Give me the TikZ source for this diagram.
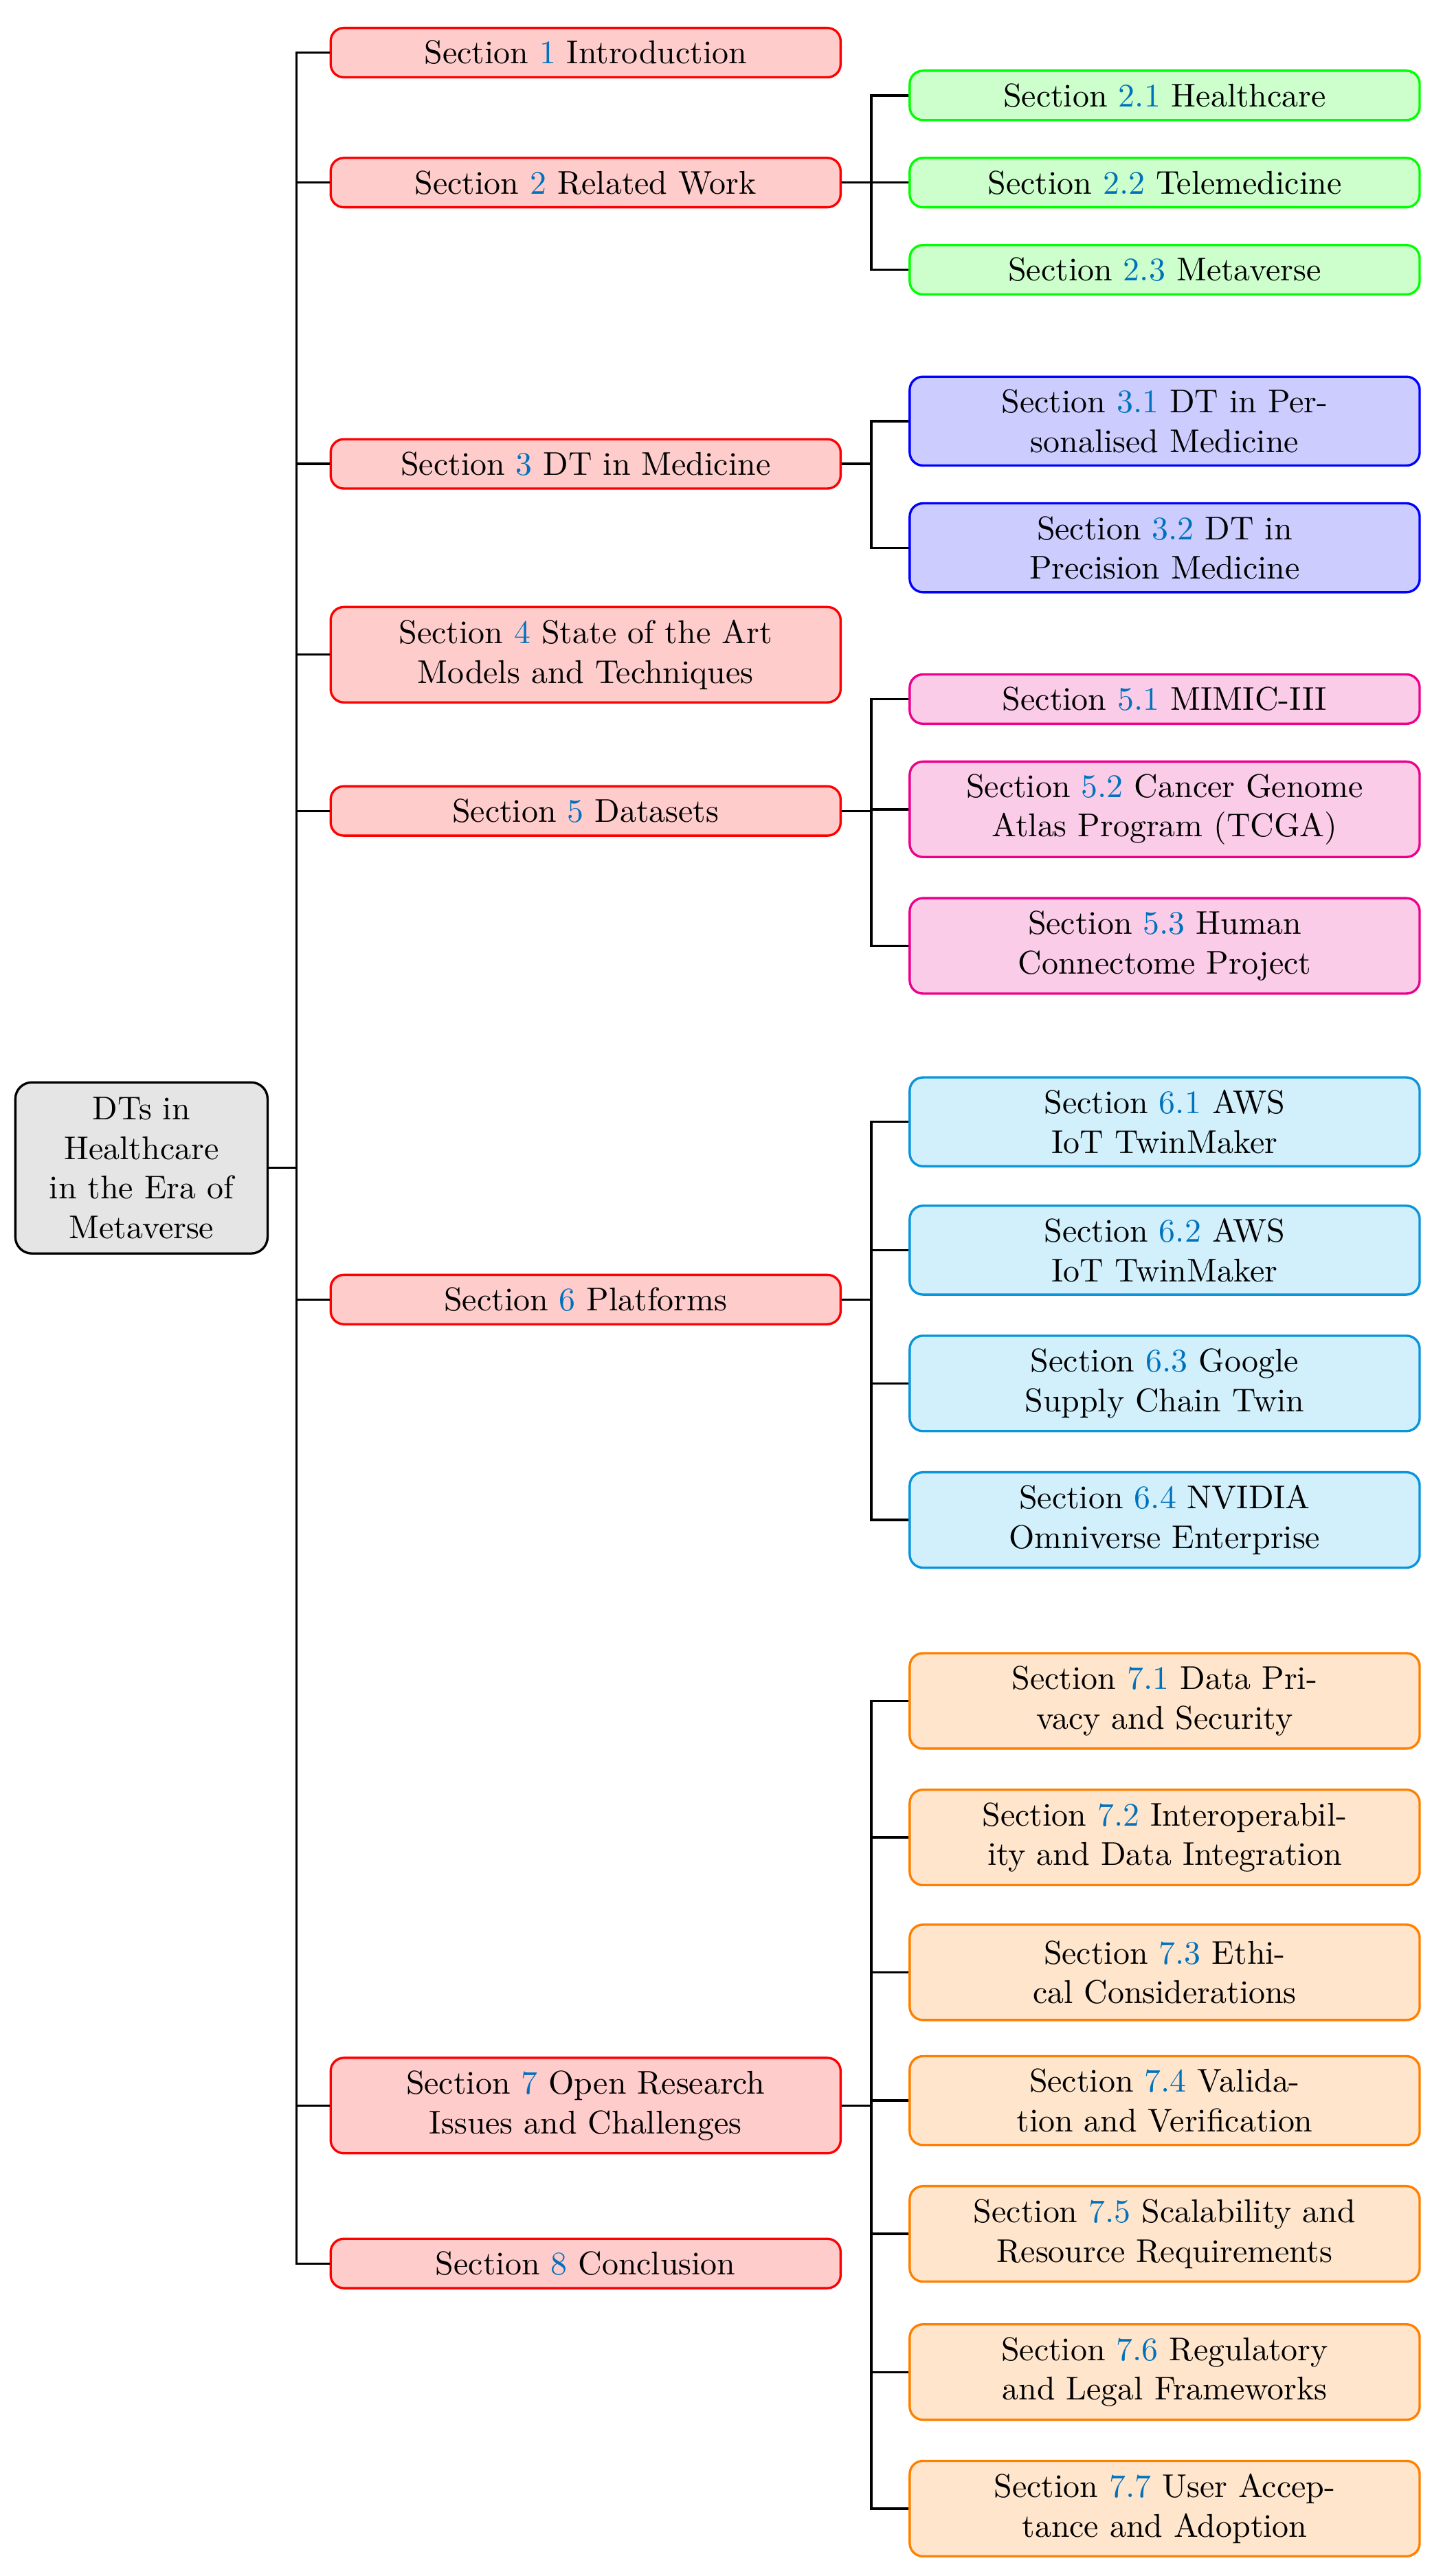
\documentclass[tikz,border=0pt]{standalone}
\usepackage{tikz}
\usetikzlibrary{positioning,calc}
\definecolor{secblue}{RGB}{0,114,189}
\newcommand{\sref}[1]{\textcolor{secblue}{#1}}
\begin{document}
\begin{tikzpicture}[x=0.5pt,y=-0.5pt,
  base/.style={rectangle, rounded corners=4pt, line width=0.7pt, align=center,
    minimum width=155pt, text width=150pt, minimum height=15pt, inner sep=1.5pt,
    font=\normalsize},
  top/.style={base, draw=red, fill=red!20},
  green/.style={base, draw=green, fill=green!20},
  blue/.style={base, draw=blue, fill=blue!20},
  pink/.style={base, draw=magenta, fill=magenta!20},
  cyanbox/.style={base, draw=cyan!80!blue, fill=cyan!18, minimum height=27pt},
  orangebox/.style={base, draw=orange, fill=orange!20, minimum height=29pt},
  link/.style={line width=0.7pt, black}
]
\useasboundingbox (0,0) rectangle (877,1566);

% root
\node[rectangle, rounded corners=5pt, draw=black, fill=gray!20, line width=0.7pt,
  align=center, minimum width=74pt, minimum height=52pt, text width=70pt] (root) at (86,710)
  {DTs in\\Healthcare\\in the Era of\\Metaverse};

% main sections
\node[top] (s1) at (356,32) {Section \sref{1} Introduction};
\node[top] (s2) at (356,111) {Section \sref{2} Related Work};
\node[top] (s3) at (356,282) {Section \sref{3} DT in Medicine};
\node[top, minimum height=29pt] (s4) at (356,398) {Section \sref{4} State of the Art\\Models and Techniques};
\node[top] (s5) at (356,493) {Section \sref{5} Datasets};
\node[top] (s6) at (356,790) {Section \sref{6} Platforms};
\node[top, minimum height=29pt] (s7) at (356,1280) {Section \sref{7} Open Research\\Issues and Challenges};
\node[top] (s8) at (356,1376) {Section \sref{8} Conclusion};

% section 2
\node[green] (s21) at (708,58) {Section \sref{2.1} Healthcare};
\node[green] (s22) at (708,111) {Section \sref{2.2} Telemedicine};
\node[green] (s23) at (708,164) {Section \sref{2.3} Metaverse};

% section 3
\node[blue, minimum height=27pt] (s31) at (708,256) {Section \sref{3.1} DT in Per-\\sonalised Medicine};
\node[blue, minimum height=27pt] (s32) at (708,333) {Section \sref{3.2} DT in\\Precision Medicine};

% section 5
\node[pink] (s51) at (708,425) {Section \sref{5.1} MIMIC-III};
\node[pink, minimum height=29pt] (s52) at (708,492) {Section \sref{5.2} Cancer Genome\\Atlas Program (TCGA)};
\node[pink, minimum height=29pt] (s53) at (708,575) {Section \sref{5.3} Human\\Connectome Project};

% section 6
\node[cyanbox] (s61) at (708,682) {Section \sref{6.1} AWS\\IoT TwinMaker};
\node[cyanbox] (s62) at (708,760) {Section \sref{6.2} AWS\\IoT TwinMaker};
\node[cyanbox, minimum height=29pt] (s63) at (708,841) {Section \sref{6.3} Google\\Supply Chain Twin};
\node[cyanbox, minimum height=29pt] (s64) at (708,924) {Section \sref{6.4} NVIDIA\\Omniverse Enterprise};

% section 7
\node[orangebox] (s71) at (708,1034) {Section \sref{7.1} Data Pri-\\vacy and Security};
\node[orangebox] (s72) at (708,1117) {Section \sref{7.2} Interoperabil-\\ity and Data Integration};
\node[orangebox] (s73) at (708,1199) {Section \sref{7.3} Ethi-\\cal Considerations};
\node[orangebox, minimum height=27pt] (s74) at (708,1277) {Section \sref{7.4} Valida-\\tion and Verification};
\node[orangebox] (s75) at (708,1358) {Section \sref{7.5} Scalability and\\Resource Requirements};
\node[orangebox] (s76) at (708,1442) {Section \sref{7.6} Regulatory\\and Legal Frameworks};
\node[orangebox] (s77) at (708,1525) {Section \sref{7.7} User Accep-\\tance and Adoption};

% connectors
\coordinate (t0) at ($(root.east)+(8.5pt,0)$);
\draw[link] (root.east) -- (t0);
\foreach \n in {s1,s2,s3,s4,s5,s6,s7,s8}
  \draw[link] (t0) |- (\n.west);

\foreach \p/\kids in {s2/{s21,s22,s23}, s3/{s31,s32}, s5/{s51,s52,s53},
    s6/{s61,s62,s63,s64}, s7/{s71,s72,s73,s74,s75,s76,s77}} {
  \coordinate (t\p) at ($(\p.east)+(9pt,0)$);
  \draw[link] (\p.east) -- (t\p);
  \foreach \k in \kids
    \draw[link] (t\p) |- (\k.west);
}
\end{tikzpicture}
\end{document}
